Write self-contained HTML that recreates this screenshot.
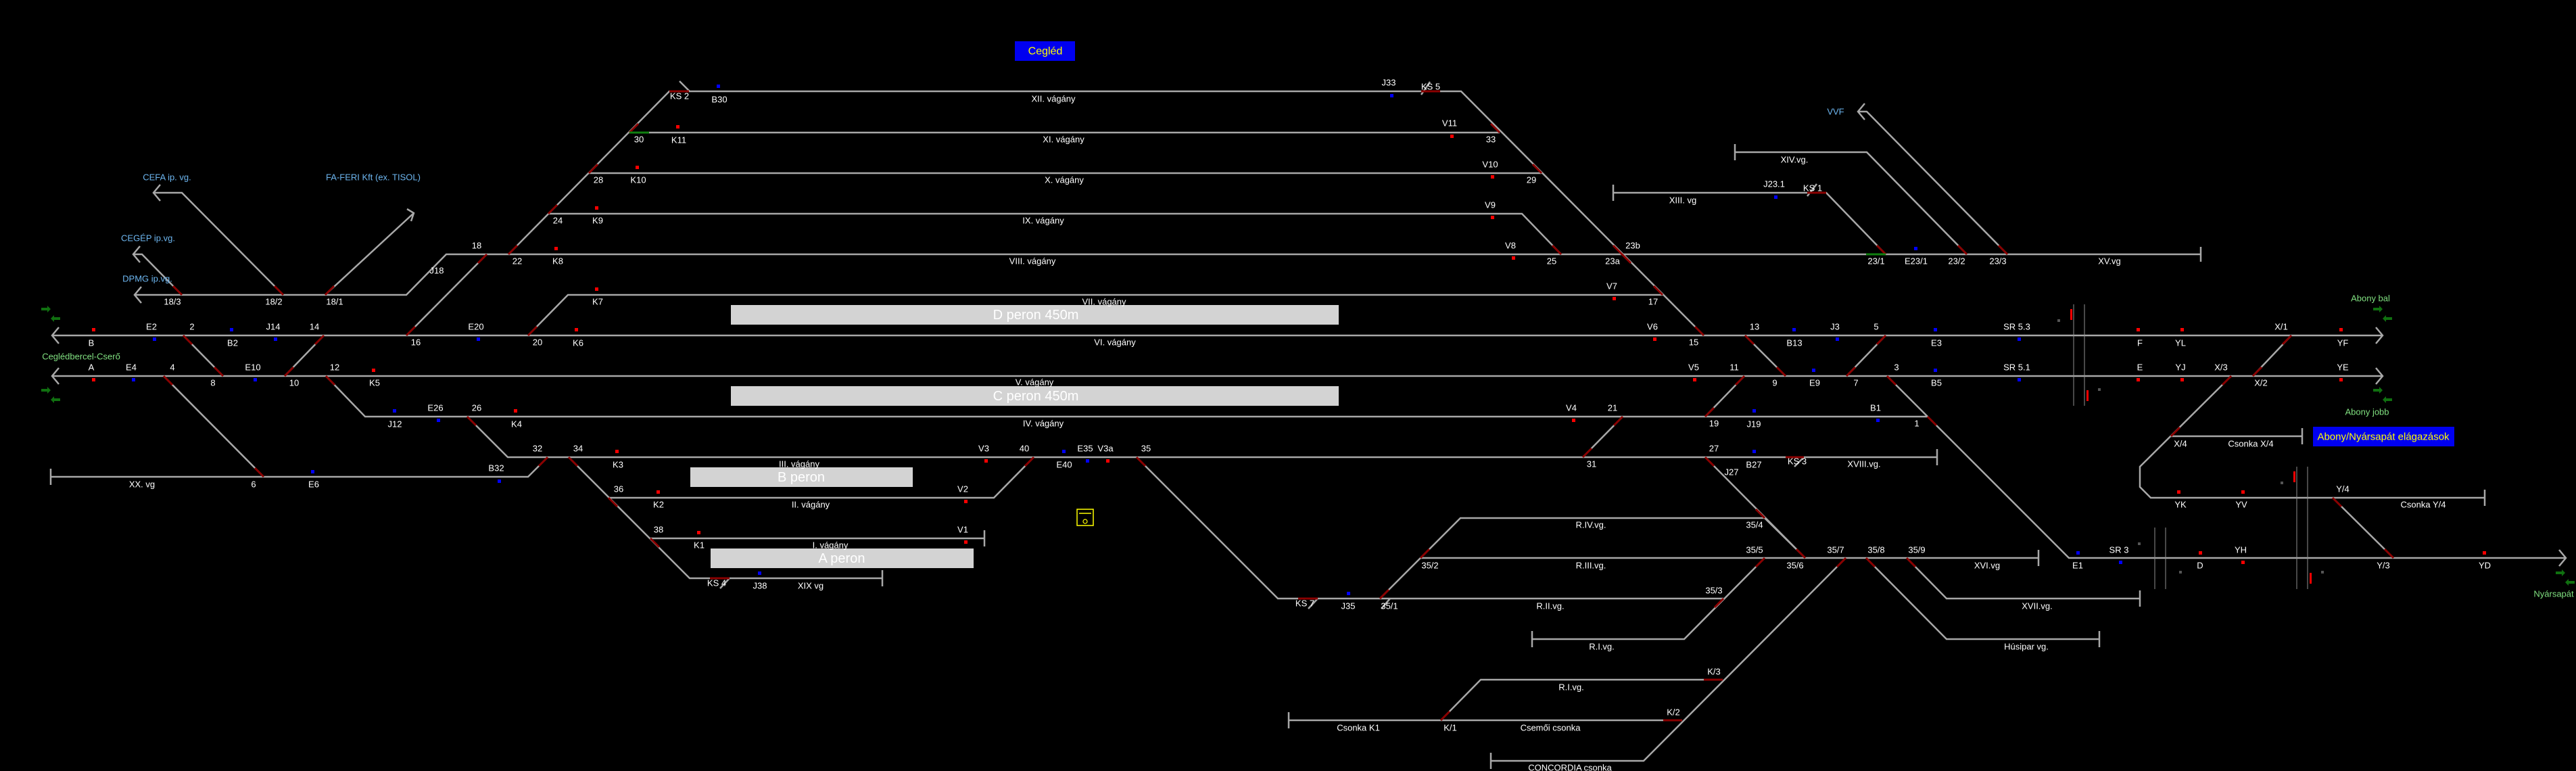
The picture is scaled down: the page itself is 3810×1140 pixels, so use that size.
<!DOCTYPE html>
<html><head><meta charset="utf-8"><style>
html,body{margin:0;padding:0;background:#000;}
svg{display:block;}
text{font-family:"Liberation Sans",sans-serif;font-size:13px;fill:#fff;text-anchor:middle;dominant-baseline:central;}
.b{fill:#6db6f0;}
.g{fill:#80e080;}
.t{stroke:#a8a8a8;stroke-width:2.5;fill:none;}
.r{stroke:#8b0000;stroke-width:3;fill:none;}
.gr{stroke:#108010;stroke-width:3;fill:none;}
.th{stroke:#909090;stroke-width:1;fill:none;}
.p{fill:#d3d3d3;}
.pt{font-size:20px;fill:#fff;}
</style></head><body>
<svg width="3810" height="1140" viewBox="0 0 3810 1140" xmlns="http://www.w3.org/2000/svg">
<rect width="3810" height="1140" fill="#000"/>
<!-- platforms -->
<rect class="p" x="1081" y="451" width="899" height="29"/>
<rect class="p" x="1081" y="571" width="899" height="29"/>
<rect class="p" x="1021" y="691" width="329" height="29"/>
<rect class="p" x="1051" y="811" width="389" height="29"/>
<text class="pt" x="1532" y="466">D peron 450m</text>
<text class="pt" x="1532" y="586">C peron 450m</text>
<text class="pt" x="1185" y="706">B peron</text>
<text class="pt" x="1245" y="826">A peron</text>
<!-- boxes -->
<rect x="1501" y="61" width="89" height="29" fill="#0000f0"/>
<text x="1546" y="76" style="fill:#ffff00;font-size:16px">Cegléd</text>
<rect x="3421" y="631" width="209" height="29" fill="#0000f0"/>
<text x="3525" y="646" style="fill:#ffff00;font-size:15px">Abony/Nyársapát elágazások</text>
<rect x="1593" y="753" width="24" height="24" fill="none" stroke="#ffff00" stroke-width="1.5"/>
<line x1="1596" y1="759" x2="1614" y2="759" stroke="#ffff00" stroke-width="1.5"/>
<circle cx="1605" cy="771" r="3" fill="none" stroke="#ffff00" stroke-width="1.2"/>
<!-- tracks -->
<path class="t" d="M77 496H3524M77 556H3524
M87 484L77 496L87 508M87 544L77 556L87 568
M3514 484L3524 496L3514 508M3514 544L3524 556L3514 568
M199 436H601L660 376H3255M3255 365V387
M209 424L199 436L209 448
M227 285H269L419 436M237 273L227 285L237 297
M481 436L612 315M602 309L612 315L608 327
M269 436L210 376H197M207 364L197 376L207 388
M601 496L720 376
M752 376L990 135H2161L2520 496
M1005 120L1020 135
M931 196H2218M871 256H2280M811 316H2251L2309 376
M781 496L840 436H2459
M2386 285H2701L2789 376M2386 273V297M2673 290L2687 272
M2102 140L2115 121
M2566 225H2761L2909 376M2566 213V237
M2758 153L2748 165L2758 177M2748 165H2761L2969 376
M271 496L330 556M479 496L421 556M2581 496L2641 556M2789 496L2731 556
M242 556L390 705M75 705H781L810 676M75 693V717
M482 556L540 616H2851
M691 616L751 676H2865M2865 664V688
M841 676L1020 855H1305M1305 843V867
M962 796H1456M1456 784V808
M900 736H1470L1529 676
M1681 676L1890 885H2549
M2610 825L2491 945H2266M2266 933V957
M2101 825H3015M3015 813V837
M2041 885L2160 766H2610L2670 825
M2522 676L2670 825
M2400 616L2341 676M2580 556L2522 616
M2791 556L3060 825H3795M3785 813L3795 825L3785 837
M2730 825L2431 1125H2205M2205 1113V1137
M2131 1065L2190 1005H2548M1906 1065H2488M1906 1053V1077
M2760 825L2879 945H3105M3105 933V957
M2820 825L2879 885H3165M3165 873V897
M3389 496L3332 556M3300 556L3165 690V720L3181 736H3675M3675 724V748
M3211 645H3405M3405 633V657
M3450 736L3540 825
M2043 900L2056 885 M1935 900L1949 885 M1065 870L1079 855 M2654 690L2668 676"/>
<path class="th" d="M3067 450V600M3083 450V600M3187 780V871M3203 780V871M3397 690V871M3413 690V871"/>
<!-- switch red segments -->
<path class="r" d="M269 436l-13 -13M419 436l-13 -13M481 436l13 -13M601 496l13 -13M720 376l-13 13
M752 376l13 -13M811 316l13 -13M871 256l13 -13M931 196l13 -13
M271 496l13 13M330 556l-13 -13M479 496l-13 13M421 556l13 -13M781 496l13 -13
M242 556l13 13M390 705l-13 -13M482 556l13 13M691 616l13 13
M810 676l-13 13M841 676l13 13M900 736l13 13M962 796l13 13M1529 676l-13 13M1681 676l13 13
M2218 196l-13 -13M2280 256l-13 -13M2399 376l-13 -13M2399 376l13 13M2459 436l-13 -13M2520 496l-13 -13
M2309 376l-13 -13M2789 376l-13 -13M2909 376l-13 -13M2969 376l-13 -13
M2581 496l13 13M2641 556l-13 -13M2789 496l-13 13M2731 556l13 -13
M2580 556l-13 13M2522 616l13 -13M2400 616l-13 13M2341 676l13 -13
M2791 556l13 13M2851 616l13 13M2522 676l13 13M2610 766l-13 -13M2670 825l-13 -13
M2041 885l13 -13M2101 825l13 -13M2610 825l-13 13M2549 885l-13 13
M2730 825l-13 13M2760 825l13 13M2820 825l13 13M2131 1065l13 -13
M3389 496l-13 13M3332 556l13 -13M3300 556l-13 13M3211 645l13 -13M3450 736l13 13M3540 825l-13 -13
M990 135H1019M2102 135H2130M2673 285H2701M2641 676H2668M1050 855H1079M1920 885H1949M2520 1005H2548M2460 1065H2488"/>
<path class="gr" d="M931 196H960M2760 376H2789"/>
<!-- signals -->
<g fill="#ff0000">
<rect x="136" y="485" width="5" height="5"/><rect x="850" y="485" width="5" height="5"/><rect x="880" y="425" width="5" height="5"/>
<rect x="820" y="365" width="5" height="5"/><rect x="880" y="305" width="5" height="5"/><rect x="940" y="245" width="5" height="5"/>
<rect x="1000" y="185" width="5" height="5"/><rect x="136" y="559" width="5" height="5"/><rect x="550" y="545" width="5" height="5"/>
<rect x="760" y="605" width="5" height="5"/><rect x="910" y="665" width="5" height="5"/><rect x="971" y="725" width="5" height="5"/>
<rect x="1031" y="785" width="5" height="5"/><rect x="1456" y="679" width="5" height="5"/><rect x="1426" y="739" width="5" height="5"/>
<rect x="1426" y="799" width="5" height="5"/><rect x="1636" y="679" width="5" height="5"/><rect x="2145" y="199" width="5" height="5"/>
<rect x="2205" y="259" width="5" height="5"/><rect x="2205" y="319" width="5" height="5"/><rect x="2236" y="379" width="5" height="5"/>
<rect x="2385" y="439" width="5" height="5"/><rect x="2445" y="499" width="5" height="5"/><rect x="2504" y="559" width="5" height="5"/>
<rect x="2325" y="619" width="5" height="5"/><rect x="3160" y="485" width="5" height="5"/><rect x="3225" y="485" width="5" height="5"/>
<rect x="3460" y="485" width="5" height="5"/><rect x="3160" y="559" width="5" height="5"/><rect x="3225" y="559" width="5" height="5"/>
<rect x="3460" y="559" width="5" height="5"/><rect x="3220" y="725" width="5" height="5"/><rect x="3315" y="725" width="5" height="5"/>
<rect x="3252" y="815" width="5" height="5"/><rect x="3315" y="829" width="5" height="5"/><rect x="3672" y="815" width="5" height="5"/>
<rect x="3062" y="457" width="3" height="16"/><rect x="3086" y="577" width="3" height="16"/><rect x="3392" y="697" width="3" height="16"/><rect x="3416" y="847" width="3" height="16"/>
</g>
<g fill="#0000ff">
<rect x="226" y="499" width="5" height="5"/><rect x="340" y="485" width="5" height="5"/><rect x="405" y="499" width="5" height="5"/>
<rect x="705" y="499" width="5" height="5"/><rect x="1060" y="125" width="5" height="5"/><rect x="195" y="559" width="5" height="5"/>
<rect x="375" y="559" width="5" height="5"/><rect x="581" y="605" width="5" height="5"/><rect x="646" y="619" width="5" height="5"/>
<rect x="460" y="695" width="5" height="5"/><rect x="736" y="709" width="5" height="5"/><rect x="1121" y="845" width="5" height="5"/>
<rect x="1571" y="665" width="5" height="5"/><rect x="1606" y="679" width="5" height="5"/><rect x="2056" y="139" width="5" height="5"/>
<rect x="2651" y="485" width="5" height="5"/><rect x="2715" y="499" width="5" height="5"/><rect x="2831" y="365" width="5" height="5"/>
<rect x="2624" y="289" width="5" height="5"/><rect x="2680" y="545" width="5" height="5"/><rect x="2592" y="605" width="5" height="5"/>
<rect x="2775" y="619" width="5" height="5"/><rect x="2592" y="665" width="5" height="5"/><rect x="1992" y="875" width="5" height="5"/>
<rect x="2860" y="485" width="5" height="5"/><rect x="2984" y="499" width="5" height="5"/><rect x="2860" y="545" width="5" height="5"/>
<rect x="2984" y="559" width="5" height="5"/><rect x="3071" y="815" width="5" height="5"/><rect x="3134" y="829" width="5" height="5"/>
</g>
<g fill="#555"><rect x="3043" y="472" width="4" height="4"/><rect x="3103" y="574" width="4" height="4"/><rect x="3373" y="712" width="4" height="4"/><rect x="3433" y="844" width="4" height="4"/><rect x="3162" y="802" width="4" height="4"/><rect x="3223" y="844" width="4" height="4"/></g>
<g fill="#107010">
<path d="M61 455h9v-3l5 5l-5 5v-3h-9z"/><path d="M89 469h-9v-3l-5 5l5 5v-3h9z"/>
<path d="M61 575h9v-3l5 5l-5 5v-3h-9z"/><path d="M89 589h-9v-3l-5 5l5 5v-3h9z"/>
<path d="M3510 455h9v-3l5 5l-5 5v-3h-9z"/><path d="M3538 469h-9v-3l-5 5l5 5v-3h9z"/>
<path d="M3510 575h9v-3l5 5l-5 5v-3h-9z"/><path d="M3538 589h-9v-3l-5 5l5 5v-3h9z"/>
<path d="M3780 845h9v-3l5 5l-5 5v-3h-9z"/><path d="M3808 859h-9v-3l-5 5l5 5v-3h9z"/>
</g>
<!-- labels -->
<text class="b" x="247" y="262">CEFA ip. vg.</text>
<text class="b" x="552" y="262">FA-FERI Kft (ex. TISOL)</text>
<text class="b" x="219" y="352">CEGÉP ip.vg.</text>
<text class="b" x="218" y="412">DPMG ip.vg.</text>
<text class="b" x="2715" y="165">VVF</text>
<text class="g" x="120" y="527">Ceglédbercel-Cserő</text>
<text class="g" x="3506" y="441">Abony bal</text>
<text class="g" x="3501" y="609">Abony jobb</text>
<text class="g" x="3777" y="878">Nyársapát</text>
<text x="255" y="446">18/3</text><text x="405" y="446">18/2</text><text x="495" y="446">18/1</text>
<text x="705" y="363">18</text><text x="646" y="400">J18</text><text x="765" y="386">22</text><text x="825" y="386">K8</text>
<text x="825" y="326">24</text><text x="884" y="326">K9</text><text x="885" y="266">28</text><text x="944" y="266">K10</text>
<text x="945" y="206">30</text><text x="1004" y="207">K11</text><text x="1005" y="142">KS 2</text><text x="1064" y="147">B30</text>
<text x="135" y="507">B</text><text x="224" y="483">E2</text><text x="284" y="483">2</text><text x="344" y="507">B2</text>
<text x="404" y="483">J14</text><text x="465" y="483">14</text><text x="615" y="506">16</text><text x="704" y="483">E20</text>
<text x="795" y="506">20</text><text x="855" y="507">K6</text><text x="884" y="446">K7</text>
<text x="135" y="543">A</text><text x="194" y="543">E4</text><text x="255" y="543">4</text><text x="315" y="566">8</text>
<text x="374" y="543">E10</text><text x="435" y="566">10</text><text x="495" y="543">12</text><text x="554" y="566">K5</text>
<text x="210" y="716">XX. vg</text><text x="375" y="716">6</text><text x="464" y="716">E6</text><text x="584" y="627">J12</text>
<text x="644" y="603">E26</text><text x="705" y="603">26</text><text x="764" y="627">K4</text><text x="795" y="663">32</text>
<text x="855" y="663">34</text><text x="914" y="687">K3</text><text x="734" y="692">B32</text><text x="915" y="723">36</text>
<text x="1558" y="146">XII. vágány</text><text x="1573" y="206">XI. vágány</text><text x="1574" y="266">X. vágány</text>
<text x="1543" y="326">IX. vágány</text><text x="1527" y="386">VIII. vágány</text><text x="1633" y="446">VII. vágány</text>
<text x="1649" y="506">VI. vágány</text><text x="1530" y="565">V. vágány</text><text x="1543" y="626">IV. vágány</text>
<text x="1182" y="686">III. vágány</text><text x="1199" y="746">II. vágány</text><text x="1228" y="806">I. vágány</text>
<text x="1199" y="866">XIX vg</text><text x="974" y="746">K2</text><text x="974" y="783">38</text><text x="1034" y="806">K1</text>
<text x="1455" y="663">V3</text><text x="1515" y="663">40</text><text x="1605" y="663">E35</text><text x="1635" y="663">V3a</text>
<text x="1695" y="663">35</text><text x="1574" y="687">E40</text><text x="1424" y="723">V2</text><text x="1424" y="783">V1</text>
<text x="1124" y="866">J38</text><text x="1060" y="862">KS 4</text>
<text x="2054" y="122">J33</text><text x="2116" y="128">KS 5</text><text x="2144" y="182">V11</text><text x="2205" y="206">33</text>
<text x="2204" y="243">V10</text><text x="2265" y="266">29</text><text x="2204" y="303">V9</text><text x="2234" y="363">V8</text>
<text x="2295" y="386">25</text><text x="2415" y="363">23b</text><text x="2385" y="386">23a</text><text x="2384" y="423">V7</text>
<text x="2445" y="446">17</text><text x="2444" y="483">V6</text><text x="2505" y="506">15</text><text x="2595" y="483">13</text>
<text x="2654" y="507">B13</text><text x="2714" y="483">J3</text><text x="2775" y="483">5</text><text x="2489" y="296">XIII. vg</text>
<text x="2624" y="272">J23.1</text><text x="2681" y="278">KS 1</text><text x="2654" y="236">XIV.vg.</text>
<text x="2775" y="386">23/1</text><text x="2834" y="386">E23/1</text><text x="2894" y="386">23/2</text><text x="2955" y="386">23/3</text>
<text x="3120" y="386">XV.vg</text>
<text x="2505" y="543">V5</text><text x="2565" y="543">11</text><text x="2625" y="566">9</text><text x="2684" y="566">E9</text>
<text x="2745" y="566">7</text><text x="2805" y="543">3</text><text x="2324" y="603">V4</text><text x="2385" y="603">21</text>
<text x="2535" y="626">19</text><text x="2594" y="627">J19</text><text x="2774" y="603">B1</text><text x="2835" y="626">1</text>
<text x="2535" y="663">27</text><text x="2354" y="686">31</text><text x="2594" y="687">B27</text><text x="2658" y="682">KS 3</text>
<text x="2757" y="686">XVIII.vg.</text><text x="2561" y="698">J27</text>
<text x="2353" y="776">R.IV.vg.</text><text x="2595" y="776">35/4</text><text x="2595" y="813">35/5</text><text x="2115" y="836">35/2</text>
<text x="2353" y="836">R.III.vg.</text><text x="2655" y="836">35/6</text><text x="2715" y="813">35/7</text><text x="2775" y="813">35/8</text>
<text x="2835" y="813">35/9</text><text x="2535" y="873">35/3</text><text x="1930" y="892">KS 7</text><text x="1994" y="896">J35</text>
<text x="2055" y="896">35/1</text><text x="2293" y="896">R.II.vg.</text><text x="2369" y="956">R.I.vg.</text><text x="2535" y="993">K/3</text>
<text x="2324" y="1016">R.I.vg.</text><text x="2475" y="1053">K/2</text><text x="2009" y="1076">Csonka K1</text><text x="2145" y="1076">K/1</text>
<text x="2293" y="1076">Csemői csonka</text><text x="2322" y="1135">CONCORDIA csonka</text>
<text x="2983" y="483">SR 5.3</text><text x="2864" y="507">E3</text><text x="3165" y="507">F</text><text x="3225" y="507">YL</text>
<text x="3374" y="483">X/1</text><text x="3465" y="507">YF</text><text x="2983" y="543">SR 5.1</text><text x="3165" y="543">E</text>
<text x="3225" y="543">YJ</text><text x="3285" y="543">X/3</text><text x="3344" y="566">X/2</text><text x="3465" y="543">YE</text>
<text x="2864" y="566">B5</text><text x="3225" y="656">X/4</text><text x="3329" y="656">Csonka X/4</text><text x="3225" y="746">YK</text>
<text x="3315" y="746">YV</text><text x="3465" y="723">Y/4</text><text x="3584" y="746">Csonka Y/4</text><text x="3134" y="813">SR 3</text>
<text x="3073" y="836">E1</text><text x="3254" y="836">D</text><text x="3314" y="813">YH</text><text x="3525" y="836">Y/3</text>
<text x="3675" y="836">YD</text><text x="2939" y="836">XVI.vg</text><text x="3013" y="896">XVII.vg.</text><text x="2997" y="956">Húsipar vg.</text>
</svg>
</body></html>
